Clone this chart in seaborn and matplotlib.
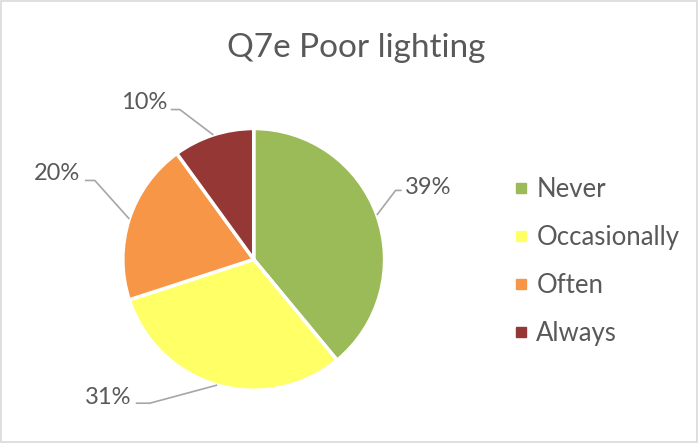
import numpy as np
import matplotlib
matplotlib.use('Agg')
import matplotlib.pyplot as plt
import seaborn as sns
from matplotlib.lines import Line2D
from matplotlib.patches import Rectangle

# chart data
categories = ['Never', 'Occasionally', 'Often', 'Always']
shares = [39, 31, 20, 10]
pct_labels = ['39%', '31%', '20%', '10%']
colors = ['#9BBB59', '#FFFF66', '#F79646', '#953735']

sns.set_theme(style='white')
plt.rcParams['font.family'] = ['Lato', 'DejaVu Sans']
grey = '#595959'
line_grey = '#A6A6A6'

fig = plt.figure(figsize=(6.98, 4.43), dpi=100)
ax = fig.add_axes([0.176, 0.119, 0.375, 0.591])

palette = sns.color_palette(colors)
wedges, _ = ax.pie(shares, colors=palette, startangle=90, counterclock=False,
                   radius=1, wedgeprops=dict(edgecolor='white', linewidth=2.5))
ax.set_xlim(-1, 1)
ax.set_ylim(-1, 1)
ax.set_aspect('equal')

# label layout: (text x, text y, line y, line end x, elbow x, side)
layout = [
    (1.153, 0.550, 0.527, 1.130, 1.084, 'left'),
    (-0.931, -1.053, -1.099, -0.901, -0.794, 'right'),
    (-1.328, 0.656, 0.603, -1.290, -1.214, 'right'),
    (-0.656, 1.198, 1.145, -0.634, -0.565, 'right'),
]

for w, lab, (tx, ty, ly, ex, bx, side) in zip(wedges, pct_labels, layout):
    mid = np.deg2rad((w.theta1 + w.theta2) / 2)
    ax0, ay0 = np.cos(mid), np.sin(mid)
    ax.plot([ax0, bx, ex], [ay0, ly, ly], color=line_grey, lw=1.2,
            clip_on=False, solid_capstyle='butt')
    ax.text(tx, ty, lab, ha=side, va='center', fontsize=17, color=grey,
            clip_on=False)

handles = [Line2D([], [], marker='s', linestyle='', color=c, markersize=7)
           for c in palette]
fig.legend(handles, categories, loc='center left',
           bbox_to_anchor=(0.739, 0.410), frameon=False, fontsize=18.5,
           labelcolor=grey, handlelength=0.4, handletextpad=0.4,
           labelspacing=0.9, borderpad=0, borderaxespad=0)

fig.text(356 / 698, 1 - 48 / 443, 'Q7e Poor lighting', ha='center',
         va='center', fontsize=24, color=grey)

fig.patches.append(Rectangle((0.001, 0.002), 0.997, 0.996, transform=fig.transFigure,
                             fill=False, edgecolor='#D9D9D9', lw=1.2))

fig.savefig('out.png', dpi=100)
